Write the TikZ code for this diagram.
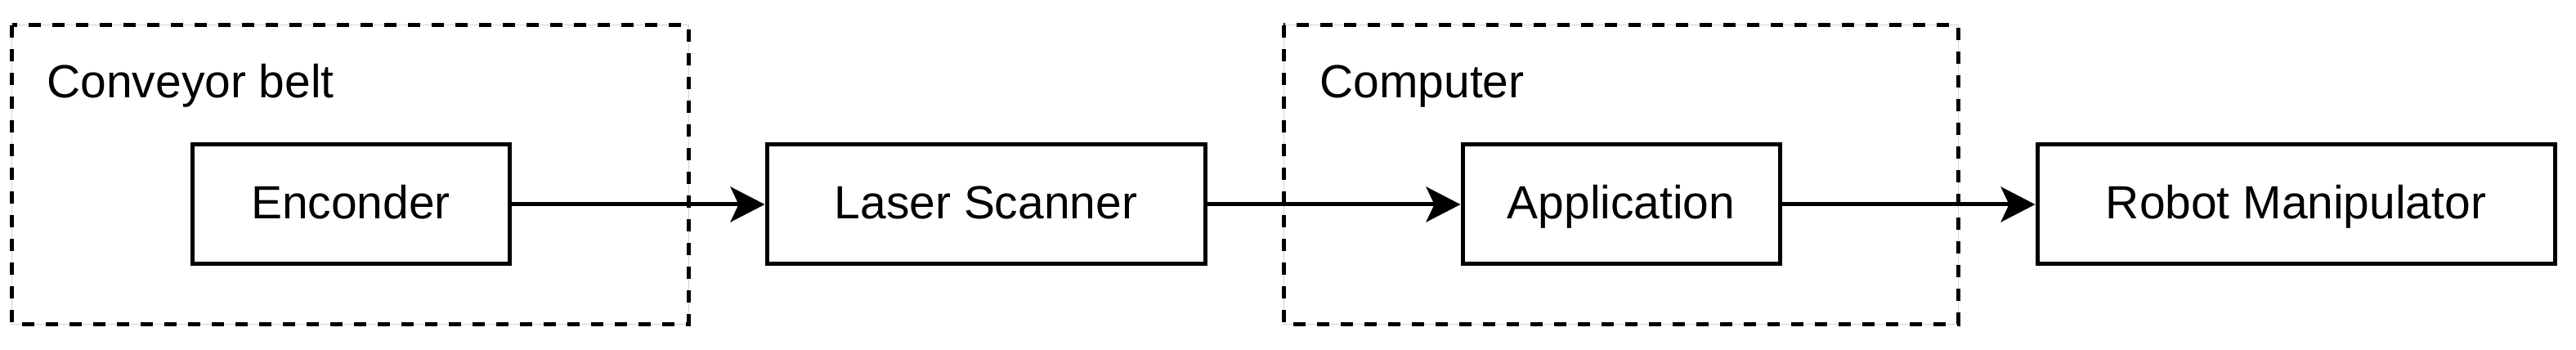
\documentclass[tikz,border=0pt]{standalone}
\usepackage{fontspec}
\setmainfont{Liberation Sans}
\usetikzlibrary{arrows.meta}
\begin{document}
\begin{tikzpicture}[line width=.05cm,
    block/.style={draw, rectangle, minimum height=1.46cm, inner sep=0pt,
      text height=11.4pt, text depth=1.7pt,
      font=\fontsize{16.2}{19}\selectfont},
    grouplabel/.style={anchor=base west, inner sep=0pt,
      font=\fontsize{16.2}{19}\selectfont},
    groupbox/.style={dash pattern=on .15cm off .14cm},
    flow/.style={-{Stealth[length=.42cm, width=.43cm, inset=.1cm]}}]
    \useasboundingbox (0,0) rectangle (31.51,4.27);
    \draw[gray!35, line width=.01cm] (.15,.31) rectangle (8.42,3.96);
    \draw[groupbox] (.15,3.96) rectangle (8.42,.31);
    \draw[gray!35, line width=.01cm] (15.7,.31) rectangle (23.95,3.96);
    \draw[groupbox] (15.7,3.96) rectangle (23.95,.31);
    \node[grouplabel] (belt) at (.55,3.07) {Conveyor belt};
    \node[grouplabel] (pc) at (16.12,3.07) {Computer};
    \node[block, minimum width=3.88cm] (enc) at (4.29,1.77) {Enconder};
    \node[block, minimum width=5.36cm] (scan) at (12.06,1.77) {Laser Scanner};
    \node[block, minimum width=3.88cm] (app) at (19.83,1.77) {Application};
    \node[block, minimum width=6.33cm] (robot) at (28.085,1.77) {Robot Manipulator};
    \draw[flow] (enc) -- (scan);
    \draw[flow] (scan) -- (app);
    \draw[flow] (app) -- (robot);
\end{tikzpicture}
\end{document}
